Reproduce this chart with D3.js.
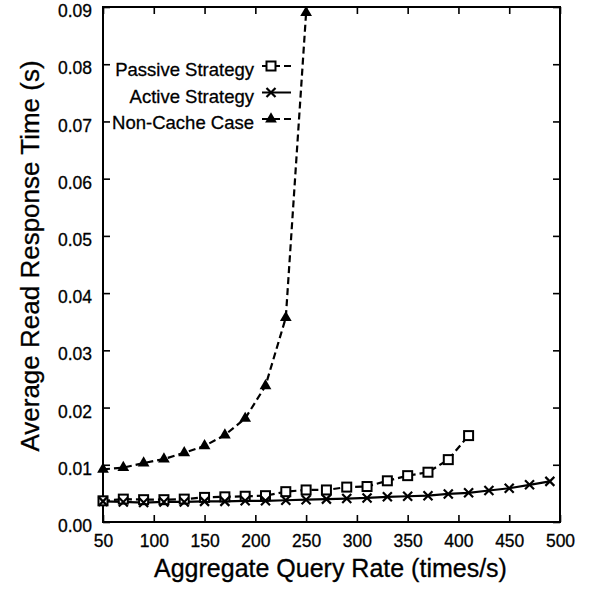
<!DOCTYPE html>
<html>
<head>
<meta charset="utf-8">
<script src="https://cdn.jsdelivr.net/npm/d3@7"></script>
<style>
  html, body { margin: 0; padding: 0; background: #fff; }
  svg { display: block; font-family: "Liberation Sans", Arial, Helvetica, sans-serif; }
</style>
</head>
<body>
<svg id="chart" width="590" height="589"></svg>
<script>
// Aggregate query rate (times/s) and average read response time (s)
const passiveRates = [50, 70, 90, 110, 130, 150, 170, 190, 210, 230, 250, 270, 290, 310, 330, 350, 370, 390, 410];
const passiveTimes = [0.0037, 0.0040, 0.0039, 0.0039, 0.0040, 0.0043, 0.0044, 0.0045, 0.0046, 0.0053, 0.0056, 0.0056, 0.0061, 0.0062, 0.0072, 0.0081, 0.0087, 0.0109, 0.0151];

const activeRates = [50, 70, 90, 110, 130, 150, 170, 190, 210, 230, 250, 270, 290, 310, 330, 350, 370, 390, 410, 430, 450, 470, 490];
const activeTimes = [0.0036, 0.0035, 0.0034, 0.0035, 0.0035, 0.0036, 0.0036, 0.0037, 0.0037, 0.0038, 0.0039, 0.0040, 0.0041, 0.0042, 0.0044, 0.0045, 0.0046, 0.0049, 0.0051, 0.0055, 0.0059, 0.0065, 0.0071];

const nonCacheRates = [50, 70, 90, 110, 130, 150, 170, 190, 210, 230, 250];
const nonCacheTimes = [0.0092, 0.0095, 0.0103, 0.0110, 0.0121, 0.0133, 0.0152, 0.0181, 0.0238, 0.0357, 0.0890];

const seriesNames = ["Passive Strategy", "Active Strategy", "Non-Cache Case"];
const xTickValues = [50, 100, 150, 200, 250, 300, 350, 400, 450, 500];
const yTickValues = [0.00, 0.01, 0.02, 0.03, 0.04, 0.05, 0.06, 0.07, 0.08, 0.09];
const xTitle = "Aggregate Query Rate (times/s)";
const yTitle = "Average Read Response Time (s)";

const svg = d3.select("#chart");
const plotLeft = 103, plotRight = 560, plotTop = 7, plotBottom = 522;

const x = d3.scaleLinear().domain([50, 500]).range([plotLeft, plotRight]);
const y = d3.scaleLinear().domain([0, 0.09]).range([plotBottom, plotTop]);

const series = [
  { name: seriesNames[0], rates: passiveRates, times: passiveTimes, dash: "7,4", marker: "square" },
  { name: seriesNames[1], rates: activeRates, times: activeTimes, dash: null, marker: "cross" },
  { name: seriesNames[2], rates: nonCacheRates, times: nonCacheTimes, dash: "7,4", marker: "triangle" }
];

// Axes: ticks point inward on all four sides
const tickLen = 7;
const axisFont = 17.5;

const xBottom = svg.append("g").attr("transform", `translate(0,${plotBottom})`)
  .call(d3.axisBottom(x).tickValues(xTickValues).tickSizeInner(-tickLen).tickSizeOuter(0).tickPadding(13).tickFormat(d3.format("d")));
const xTop = svg.append("g").attr("transform", `translate(0,${plotTop})`)
  .call(d3.axisTop(x).tickValues(xTickValues).tickSizeInner(-tickLen).tickSizeOuter(0).tickFormat(""));
const yLeft = svg.append("g").attr("transform", `translate(${plotLeft},0)`)
  .call(d3.axisLeft(y).tickValues(yTickValues).tickSizeInner(-tickLen).tickSizeOuter(0).tickPadding(11).tickFormat(d3.format(".2f")));
const yRight = svg.append("g").attr("transform", `translate(${plotRight},0)`)
  .call(d3.axisRight(y).tickValues(yTickValues).tickSizeInner(-tickLen).tickSizeOuter(0).tickFormat(""));

[xBottom, xTop, yLeft, yRight].forEach(g => {
  g.select(".domain").remove();
  g.selectAll(".tick line").attr("stroke", "#000").attr("stroke-width", 1.6);
  g.selectAll(".tick text").attr("fill", "#000").attr("font-size", axisFont)
    .attr("font-family", "Liberation Sans, Arial, sans-serif")
    .attr("stroke", "#000").attr("stroke-width", 0.3);
});
yLeft.selectAll(".tick text").attr("dy", "0.55em");
xBottom.selectAll(".tick text").attr("dy", "0.71em");

// Plot frame
svg.append("rect")
  .attr("x", plotLeft).attr("y", plotTop)
  .attr("width", plotRight - plotLeft).attr("height", plotBottom - plotTop)
  .attr("fill", "none").attr("stroke", "#000").attr("stroke-width", 2);

// Axis titles
svg.append("text")
  .attr("x", (plotLeft + plotRight) / 2 - 1).attr("y", 577)
  .attr("text-anchor", "middle").attr("font-size", 25).attr("fill", "#000")
  .attr("stroke", "#000").attr("stroke-width", 0.3)
  .text(xTitle);
svg.append("text")
  .attr("transform", "translate(39,256) rotate(-90)")
  .attr("text-anchor", "middle").attr("font-size", 26).attr("fill", "#000")
  .attr("stroke", "#000").attr("stroke-width", 0.3)
  .text(yTitle);

// Marker drawing helpers
function drawMarker(g, type, cx, cy) {
  if (type === "square") {
    g.append("rect").attr("x", cx - 4.5).attr("y", cy - 4.5).attr("width", 9).attr("height", 9)
      .attr("fill", "#fff").attr("stroke", "#000").attr("stroke-width", 2);
  } else if (type === "cross") {
    const s = 4.5;
    g.append("path").attr("d", `M${cx - s},${cy - s}L${cx + s},${cy + s}M${cx - s},${cy + s}L${cx + s},${cy - s}`)
      .attr("stroke", "#000").attr("stroke-width", 2.2).attr("fill", "none");
  } else if (type === "triangle") {
    g.append("path").attr("d", d3.symbol(d3.symbolTriangle, 60)())
      .attr("transform", `translate(${cx},${cy})`).attr("fill", "#000");
  }
}

const line = d3.line().x(d => x(d[0])).y(d => y(d[1]));
const plot = svg.append("g");

series.forEach(s => {
  const pts = s.rates.map((r, i) => [r, s.times[i]]);
  plot.append("path").datum(pts).attr("d", line)
    .attr("fill", "none").attr("stroke", "#000").attr("stroke-width", 2.2)
    .attr("stroke-dasharray", s.dash);
});
// markers on top of all lines
[series[2], series[0], series[1]].forEach(s => {
  const g = plot.append("g");
  s.rates.forEach((r, i) => drawMarker(g, s.marker, x(r), y(s.times[i])));
});

// Legend
const legend = svg.append("g");
series.forEach((s, i) => {
  const cy = 66 + i * 26.5;
  legend.append("text").attr("x", 254).attr("y", cy + 10)
    .attr("text-anchor", "end").attr("font-size", 18.5).attr("fill", "#000")
    .attr("stroke", "#000").attr("stroke-width", 0.3).text(s.name);
  legend.append("line").attr("x1", 262).attr("x2", 291).attr("y1", cy).attr("y2", cy)
    .attr("stroke", "#000").attr("stroke-width", 2).attr("stroke-dasharray", s.dash ? "7,4" : null);
  drawMarker(legend, s.marker, 271, cy);
});
</script>
</body>
</html>
